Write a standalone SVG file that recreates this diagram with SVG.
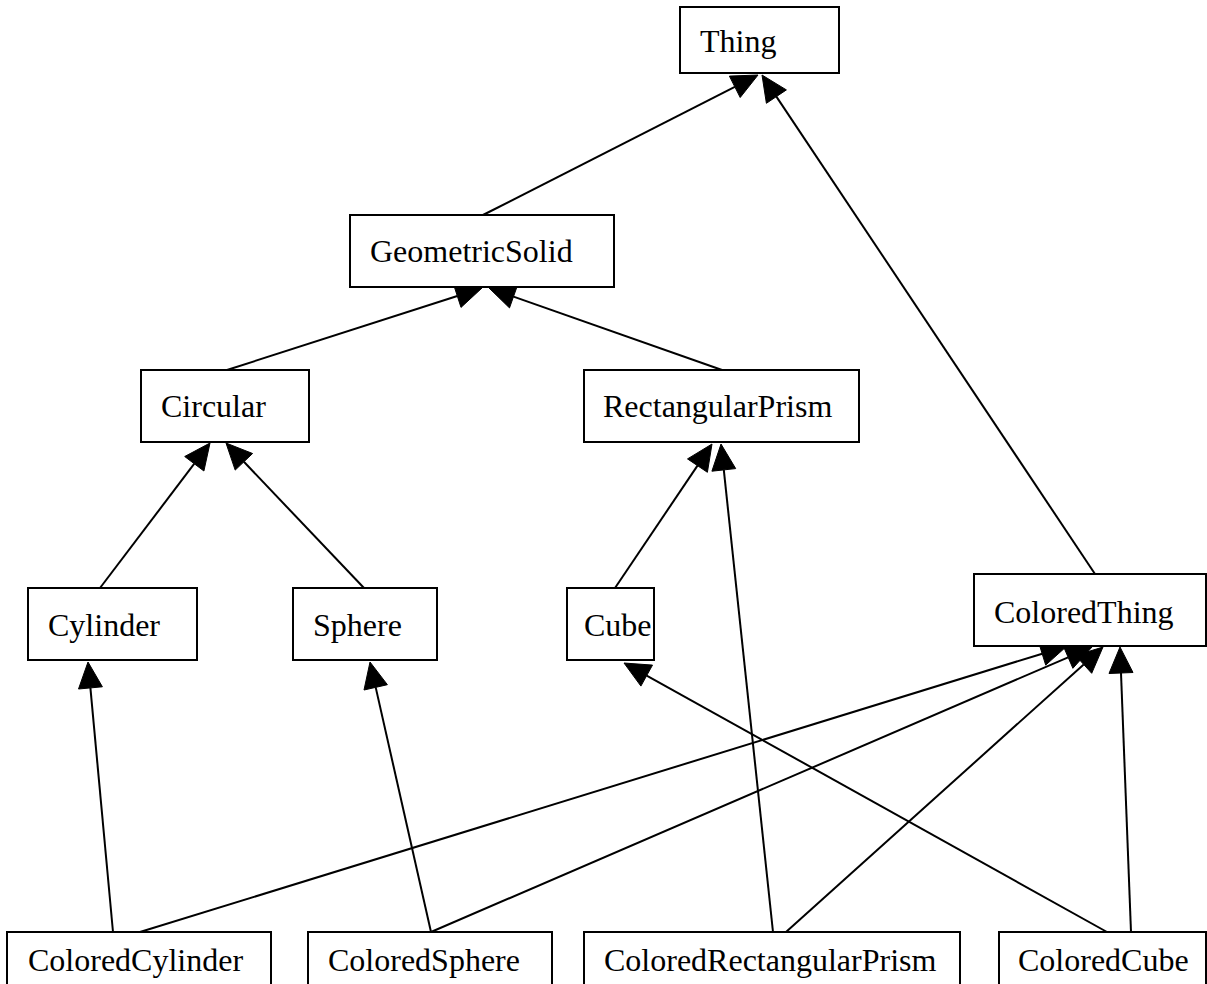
<svg xmlns="http://www.w3.org/2000/svg" width="1207" height="984" viewBox="0 0 1207 984">
<style>
.box{fill:#fff;stroke:#000;stroke-width:2}
.lbl{font-family:"Liberation Serif","Times New Roman",serif;font-size:32px;fill:#000}
.e line{stroke:#000;stroke-width:2}
.e polygon{fill:#000;stroke:#000;stroke-width:1}
</style>
<rect width="1207" height="984" fill="#fff"/>
<g id="edges" class="e">
<line x1="483" y1="215" x2="734.8" y2="86.8"/><polygon points="758,75 740.2,97.5 729.4,76.1"/>
<line x1="1095" y1="574" x2="776.4" y2="96.6"/><polygon points="762,75 786.4,89.9 766.4,103.3"/>
<line x1="227" y1="370" x2="457.3" y2="296"/><polygon points="482,288 461,307.4 453.6,284.6"/>
<line x1="722" y1="370" x2="513.5" y2="296.6"/><polygon points="489,288 517.5,285.3 509.5,307.9"/>
<line x1="100" y1="588" x2="194.3" y2="463.7"/><polygon points="210,443 203.9,471 184.7,456.5"/>
<line x1="364" y1="588" x2="243.9" y2="461.8"/><polygon points="226,443 252.6,453.5 235.2,470.1"/>
<line x1="615" y1="588" x2="697.5" y2="465.6"/><polygon points="712,444 707.4,472.3 687.5,458.9"/>
<line x1="773" y1="932" x2="723.8" y2="469.9"/><polygon points="721,444 735.7,468.6 711.9,471.2"/>
<line x1="113" y1="932" x2="90.4" y2="687.9"/><polygon points="88,662 102.4,686.8 78.5,689"/>
<line x1="431" y1="932" x2="375.7" y2="687.4"/><polygon points="370,662 387.4,684.7 364,690"/>
<line x1="1107" y1="932" x2="646.7" y2="675.6"/><polygon points="624,663 652.5,665.1 640.9,686.1"/>
<line x1="140" y1="932" x2="1042.2" y2="653.7"/><polygon points="1067,646 1045.7,665.1 1038.6,642.2"/>
<line x1="431" y1="932" x2="1068.1" y2="657.3"/><polygon points="1092,647 1072.9,668.3 1063.4,646.3"/>
<line x1="786" y1="932" x2="1083.7" y2="664.4"/><polygon points="1103,647 1091.7,673.3 1075.6,655.5"/>
<line x1="1131" y1="932" x2="1121" y2="673"/><polygon points="1120,647 1133,672.5 1109,673.5"/>
</g>
<g id="Thing"><rect class="box" x="680" y="7" width="159" height="66"/><text class="lbl" x="700" y="52">Thing</text></g>
<g id="GeometricSolid"><rect class="box" x="350" y="215" width="264" height="72"/><text class="lbl" x="370" y="262">GeometricSolid</text></g>
<g id="Circular"><rect class="box" x="141" y="370" width="168" height="72"/><text class="lbl" x="161" y="417">Circular</text></g>
<g id="RectangularPrism"><rect class="box" x="584" y="370" width="275" height="72"/><text class="lbl" x="603" y="417">RectangularPrism</text></g>
<g id="Cylinder"><rect class="box" x="28" y="588" width="169" height="72"/><text class="lbl" x="48" y="636">Cylinder</text></g>
<g id="Sphere"><rect class="box" x="293" y="588" width="144" height="72"/><text class="lbl" x="313" y="636">Sphere</text></g>
<g id="Cube"><rect class="box" x="567" y="588" width="87" height="72"/><text class="lbl" x="584" y="636">Cube</text></g>
<g id="ColoredThing"><rect class="box" x="974" y="574" width="232" height="72"/><text class="lbl" x="994" y="623">ColoredThing</text></g>
<g id="ColoredCylinder"><rect class="box" x="7" y="932" width="264" height="72"/><text class="lbl" x="28" y="971">ColoredCylinder</text></g>
<g id="ColoredSphere"><rect class="box" x="308" y="932" width="244" height="72"/><text class="lbl" x="328" y="971">ColoredSphere</text></g>
<g id="ColoredRectangularPrism"><rect class="box" x="584" y="932" width="376" height="72"/><text class="lbl" x="604" y="971">ColoredRectangularPrism</text></g>
<g id="ColoredCube"><rect class="box" x="999" y="932" width="207" height="72"/><text class="lbl" x="1018" y="971">ColoredCube</text></g>
</svg>
